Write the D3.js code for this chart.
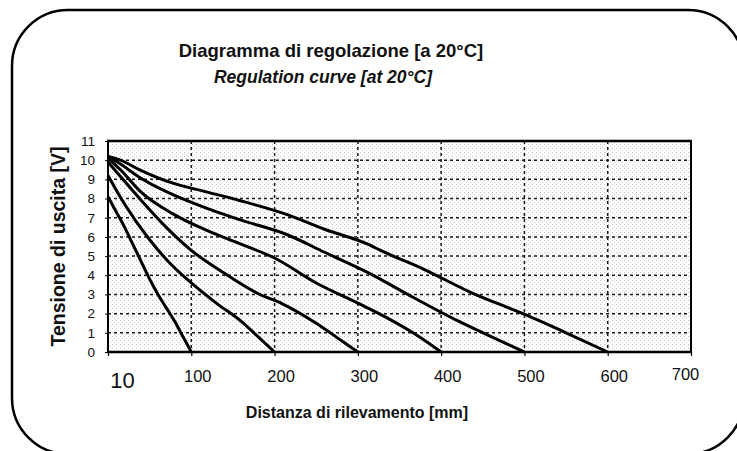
<!DOCTYPE html>
<html>
<head>
<meta charset="utf-8" />
<title>Regulation curve</title>
<script src="https://cdn.jsdelivr.net/npm/d3@7"></script>
<style>
  body { margin: 0; background: #fff; }
  text { font-family: "Liberation Sans", Arial, sans-serif; fill: #111; }
  .grid line { stroke: #1a1a1a; stroke-width: 1.5; stroke-dasharray: 3 3; }
  .curve { fill: none; stroke: #000; stroke-width: 3; stroke-linejoin: round; }
</style>
</head>
<body>
<svg id="chart" width="737" height="451"></svg>
<script>
// x positions in mm, the origin is labelled "10"
var xTicks = [0, 100, 200, 300, 400, 500, 600, 700];
var xTickLabels = ["10", "100", "200", "300", "400", "500", "600", "700"];
var yTicks = [0, 1, 2, 3, 4, 5, 6, 7, 8, 9, 10, 11];

// one array per curve
var curve100x = [0, 10, 20, 30, 40, 50, 60, 70, 80, 90, 100];
var curve100y = [8.1, 7.3, 6.5, 5.6, 4.7, 3.8, 3.0, 2.3, 1.6, 0.8, 0];
var curve200x = [0, 20, 50, 75, 100, 130, 160, 180, 200];
var curve200y = [9.2, 7.7, 5.85, 4.6, 3.6, 2.55, 1.6, 0.8, 0];
var curve300x = [0, 20, 40, 70, 100, 140, 180, 210, 250, 280, 300];
var curve300y = [9.9, 8.9, 7.9, 6.5, 5.3, 4.1, 3.05, 2.5, 1.5, 0.6, 0];
var curve400x = [0, 15, 38, 78, 118, 158, 200, 250, 300, 330, 370, 400];
var curve400y = [10.1, 9.5, 8.4, 7.2, 6.35, 5.65, 4.9, 3.6, 2.55, 1.9, 0.9, 0];
var curve500x = [0, 15, 38, 78, 118, 158, 216, 260, 314, 360, 422, 460, 500];
var curve500y = [10.2, 9.8, 9.1, 8.2, 7.5, 6.9, 6.1, 5.2, 4.1, 3.0, 1.58, 0.8, 0];
var curve600x = [0, 15, 38, 78, 118, 158, 216, 260, 314, 326, 380, 434, 502, 550, 600];
var curve600y = [10.2, 10.0, 9.5, 8.8, 8.35, 7.9, 7.15, 6.4, 5.58, 5.32, 4.3, 3.14, 1.93, 1.0, 0];

var curves = [
  [curve100x, curve100y], [curve200x, curve200y], [curve300x, curve300y],
  [curve400x, curve400y], [curve500x, curve500y], [curve600x, curve600y]
];

var svg = d3.select("#chart");

// rounded frame around the whole figure
svg.append("rect")
  .attr("x", 12).attr("y", 10)
  .attr("width", 732).attr("height", 444)
  .attr("rx", 56).attr("ry", 56)
  .attr("fill", "none").attr("stroke", "#000").attr("stroke-width", 2.5);

var pLeft = 108, pRight = 691, pTop = 141, pBottom = 352;
var x = d3.scaleLinear().domain([0, 700]).range([pLeft, pRight]);
var y = d3.scaleLinear().domain([0, 11]).range([pBottom, pTop]);

// stippled plot background
var defs = svg.append("defs");
var pat = defs.append("pattern").attr("id", "stip")
  .attr("width", 4).attr("height", 4).attr("patternUnits", "userSpaceOnUse");
pat.append("rect").attr("width", 4).attr("height", 4).attr("fill", "#fdfdfd");
pat.append("rect").attr("width", 1).attr("height", 1).attr("fill", "#c4c4c4");
pat.append("rect").attr("x", 2).attr("y", 2).attr("width", 1).attr("height", 1).attr("fill", "#dadada");

svg.append("rect")
  .attr("x", pLeft).attr("y", pTop)
  .attr("width", pRight - pLeft).attr("height", pBottom - pTop)
  .attr("fill", "url(#stip)");

// grid
var grid = svg.append("g").attr("class", "grid");
grid.selectAll(".h").data(yTicks.slice(1, -1)).enter().append("line")
  .attr("x1", pLeft).attr("x2", pRight)
  .attr("y1", function (d) { return y(d); }).attr("y2", function (d) { return y(d); });
grid.selectAll(".v").data(xTicks.slice(1, -1)).enter().append("line")
  .attr("y1", pTop).attr("y2", pBottom)
  .attr("x1", function (d) { return x(d); }).attr("x2", function (d) { return x(d); });

// axes
var xAxis = d3.axisBottom(x).tickValues(xTicks).tickSize(4)
  .tickFormat(function (d, i) { return xTickLabels[i]; });
var gx = svg.append("g").attr("transform", "translate(0," + pBottom + ")").call(xAxis);
gx.select(".domain").remove();
gx.selectAll(".tick line").attr("stroke", "#000").attr("stroke-width", 1.2);
gx.selectAll(".tick text")
  .attr("y", 18).attr("dy", "0.71em").attr("dx", 6)
  .style("font-size", "16.5px").style("font-family", "Liberation Sans, Arial, sans-serif");
gx.selectAll(".tick text").filter(function (d) { return d === 0; })
  .attr("dx", 14).attr("y", 20).style("font-size", "22px");
gx.selectAll(".tick text").filter(function (d) { return d === 700; })
  .attr("dx", -6).attr("y", 16);

var yAxis = d3.axisLeft(y).tickValues(yTicks).tickSize(3).tickPadding(10);
var gy = svg.append("g").attr("transform", "translate(" + pLeft + ",0)").call(yAxis);
gy.select(".domain").remove();
gy.selectAll(".tick line").attr("stroke", "#000");
gy.selectAll(".tick text").style("font-size", "13.5px")
  .style("font-family", "Liberation Sans, Arial, sans-serif");

// curves
var line = d3.line()
  .x(function (d) { return x(d[0]); })
  .y(function (d) { return y(d[1]); })
  .curve(d3.curveMonotoneX);
svg.selectAll(".curve").data(curves).enter().append("path")
  .attr("class", "curve")
  .attr("d", function (c) { return line(d3.zip(c[0], c[1])); });

// plot border
svg.append("line").attr("x1", pLeft - 1).attr("x2", pRight + 1).attr("y1", pTop).attr("y2", pTop)
  .attr("stroke", "#000").attr("stroke-width", 2.5);
svg.append("line").attr("x1", pLeft - 1).attr("x2", pRight + 1).attr("y1", pBottom).attr("y2", pBottom)
  .attr("stroke", "#000").attr("stroke-width", 2.5);
svg.append("line").attr("x1", pLeft).attr("x2", pLeft).attr("y1", pTop).attr("y2", pBottom)
  .attr("stroke", "#000").attr("stroke-width", 2);
svg.append("line").attr("x1", pRight).attr("x2", pRight).attr("y1", pTop).attr("y2", pBottom)
  .attr("stroke", "#000").attr("stroke-width", 2);

// titles
svg.append("text").attr("x", 331).attr("y", 57).attr("text-anchor", "middle")
  .style("font-size", "18.5px").style("font-weight", "bold")
  .text("Diagramma di regolazione [a 20°C]");
svg.append("text").attr("x", 323).attr("y", 83).attr("text-anchor", "middle")
  .style("font-size", "17.5px").style("font-weight", "bold").style("font-style", "italic")
  .text("Regulation curve [at 20°C]");
svg.append("text").attr("x", 357).attr("y", 418).attr("text-anchor", "middle")
  .style("font-size", "16px").style("font-weight", "bold")
  .text("Distanza di rilevamento [mm]");
svg.append("text")
  .attr("transform", "translate(65," + (pTop + pBottom) / 2 + ") rotate(-90)")
  .attr("text-anchor", "middle")
  .style("font-size", "19.5px").style("font-weight", "bold")
  .text("Tensione di uscita [V]");
</script>
</body>
</html>
